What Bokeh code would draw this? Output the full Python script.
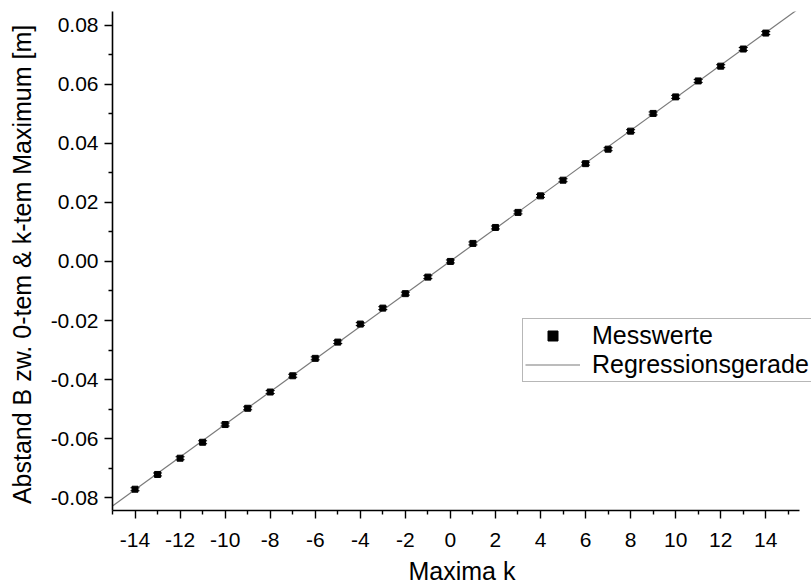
import numpy as np
from bokeh.plotting import figure
from bokeh.models import (Range1d, FixedTicker, PrintfTickFormatter, Whisker,
                          ColumnDataSource, Legend, LegendItem, TeeHead)
from bokeh.embed import file_html
from bokeh.resources import INLINE

# ---- data ----
k = [-14, -13, -12, -11, -10, -9, -8, -7, -6, -5, -4, -3, -2, -1, 0,
     1, 2, 3, 4, 5, 6, 7, 8, 9, 10, 11, 12, 13, 14]
B = [-0.0771, -0.0721, -0.0666, -0.0612, -0.0552, -0.0497, -0.0442, -0.0387,
     -0.0328, -0.0273, -0.0212, -0.0158, -0.0109, -0.0053, 0.0000,
     0.0061, 0.0115, 0.0166, 0.0222, 0.0275, 0.0331, 0.0380, 0.0441,
     0.0501, 0.0557, 0.0611, 0.0661, 0.0719, 0.0773]
B_err = [0.0005] * 29

x_major = [-14, -12, -10, -8, -6, -4, -2, 0, 2, 4, 6, 8, 10, 12, 14]
x_minor = [-15, -13, -11, -9, -7, -5, -3, -1, 1, 3, 5, 7, 9, 11, 13, 15]
y_major = [-0.08, -0.06, -0.04, -0.02, 0.0, 0.02, 0.04, 0.06, 0.08]
y_minor = [-0.07, -0.05, -0.03, -0.01, 0.01, 0.03, 0.05, 0.07]

x_lo, x_end = -15.0, 15.5      # drawn x axis extent
x_view_hi = 16.03              # visible range reaches the page edge
y_lo, y_hi = -0.0843, 0.0846

FONT = "Liberation Sans"

p = figure(width=811, height=587, output_backend="svg", toolbar_location=None,
           x_range=Range1d(x_lo, x_view_hi), y_range=Range1d(y_lo, y_hi),
           min_border_left=112, min_border_right=0, min_border_top=11,
           min_border_bottom=77)
p.grid.visible = False
p.outline_line_color = None
p.background_fill_color = "white"
p.border_fill_color = "white"

# regression line
slope, intercept = np.polyfit(np.array(k, float), np.array(B, float), 1)
xf = [x_lo, x_end]
yf = [intercept + slope * xv for xv in xf]
line_r = p.line(xf, yf, line_color="#7a7a7a", line_width=1.2)

# error bars
src = ColumnDataSource(dict(k=k, B=B,
                            up=[b + e for b, e in zip(B, B_err)],
                            lo=[b - e for b, e in zip(B, B_err)]))
wh = Whisker(base="k", upper="up", lower="lo", source=src,
             line_color="black", line_width=1,
             upper_head=TeeHead(size=9, line_color="black", line_width=1),
             lower_head=TeeHead(size=9, line_color="black", line_width=1))
p.add_layout(wh)

pts = p.scatter("k", "B", source=src, marker="square", size=6,
                fill_color="black", line_color="black")

# axes
for ax in (p.xaxis[0], p.yaxis[0]):
    ax.axis_line_color = "black"
    ax.axis_line_width = 1.6
    ax.major_tick_line_color = "black"
    ax.minor_tick_line_color = "black"
    ax.major_tick_line_width = 1.4
    ax.minor_tick_line_width = 1.4
    ax.major_tick_in = 0
    ax.major_tick_out = 8
    ax.minor_tick_in = 0
    ax.minor_tick_out = 4
    ax.major_label_text_font = FONT
    ax.major_label_text_font_size = "21px"
    ax.major_label_text_color = "black"
    ax.axis_label_text_font = FONT
    ax.axis_label_text_font_style = "normal"
    ax.axis_label_text_font_size = "25px"
    ax.axis_label_text_color = "black"

p.xaxis.bounds = (x_lo, x_end)
p.xaxis.ticker = FixedTicker(ticks=x_major, minor_ticks=x_minor)
p.yaxis.ticker = FixedTicker(ticks=y_major, minor_ticks=y_minor)
p.xaxis.formatter = PrintfTickFormatter(format="%d")
p.yaxis.formatter = PrintfTickFormatter(format="%.2f")
p.xaxis.major_label_standoff = 14
p.yaxis.major_label_standoff = 6
p.xaxis.axis_label = "Maxima k"
p.yaxis.axis_label = "Abstand B zw. 0-tem & k-tem Maximum  [m]"
p.xaxis.axis_label_standoff = 7
p.yaxis.axis_label_standoff = 12

legend = Legend(items=[LegendItem(label="Messwerte", renderers=[pts]),
                       LegendItem(label="Regressionsgerade", renderers=[line_r])],
                location=(410, 128), orientation="vertical",
                label_text_font=FONT, label_text_font_size="25px",
                label_text_color="black",
                border_line_color="#707070", border_line_width=1,
                background_fill_color="white", background_fill_alpha=1.0,
                padding=2, margin=0, spacing=0,
                glyph_width=55, glyph_height=25, label_height=25,
                label_standoff=12)
p.add_layout(legend, "center")

open("out.html", "w").write(file_html(p, INLINE))
